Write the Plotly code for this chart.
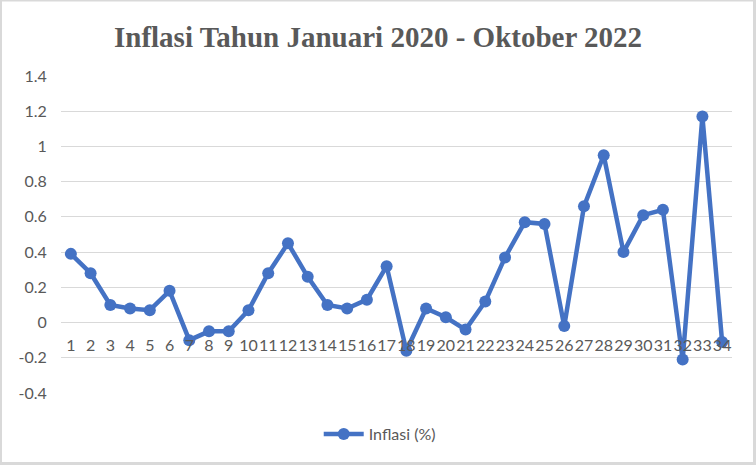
import plotly.graph_objects as go

months = [str(i) for i in range(1, 35)]
inflasi = [0.39, 0.28, 0.10, 0.08, 0.07, 0.18, -0.10, -0.05, -0.05, 0.07,
           0.28, 0.45, 0.26, 0.10, 0.08, 0.13, 0.32, -0.16, 0.08, 0.03,
           -0.04, 0.12, 0.37, 0.57, 0.56, -0.02, 0.66, 0.95, 0.40, 0.61,
           0.64, -0.21, 1.17, -0.11]
y_tickvals = [-0.4, -0.2, 0, 0.2, 0.4, 0.6, 0.8, 1, 1.2, 1.4]
y_ticktext = ["-0.4", "-0.2", "0", "0.2", "0.4", "0.6", "0.8", "1", "1.2", "1.4"]

W, H = 756, 465
L, R, T, B = 61, 24, 76, 72
pw, ph = W - L - R, H - T - B
ymin, ymax = -0.4, 1.4

def xp(px):
    return (px - L) / pw

def yp(py):
    return (H - B - py) / ph

txt = "#595959"
grid = "#d9d9d9"

fig = go.Figure()
fig.add_trace(go.Scatter(
    x=months, y=inflasi, mode="lines+markers", name="Inflasi (%)",
    line=dict(color="#4472C4", width=4.5),
    marker=dict(color="#4472C4", size=12),
))

fig.update_layout(
    width=W, height=H,
    margin=dict(l=L, r=R, t=T, b=B, autoexpand=False),
    paper_bgcolor=grid,
    plot_bgcolor="rgba(0,0,0,0)",
    font=dict(family="Lato, Calibri, sans-serif", size=16, color=txt),
    title=dict(text="<b>Inflasi Tahun Januari 2020 - Oktober 2022</b>",
               font=dict(family="Liberation Serif, Times New Roman, serif", size=29, color=txt),
               x=0.5, xanchor="center", xref="container",
               y=1 - 37 / H, yanchor="middle", yref="container"),
    xaxis=dict(type="category", anchor="free",
               position=(0 - ymin) / (ymax - ymin),
               range=[-0.5, len(months) - 0.5],
               tickmode="array", tickvals=months, ticktext=months,
               showgrid=False, showline=False, zeroline=False,
               tickangle=0, ticks="outside", ticklen=8, tickcolor="rgba(0,0,0,0)",
               tickfont=dict(size=16, color=txt)),
    yaxis=dict(range=[ymin, ymax], tickvals=y_tickvals, ticktext=y_ticktext,
               showgrid=True, gridcolor=grid, gridwidth=1,
               zeroline=True, zerolinecolor=grid, zerolinewidth=1,
               showline=False, ticks="outside", ticklen=10,
               tickcolor="rgba(0,0,0,0)", tickfont=dict(size=16, color=txt)),
    showlegend=True,
    legend=dict(orientation="h", x=0.475, xanchor="center",
                y=yp(434), yanchor="middle", itemwidth=40,
                font=dict(size=16, color=txt), bgcolor="rgba(0,0,0,0)"),
    shapes=[dict(type="rect", xref="paper", yref="paper", layer="below",
                 x0=xp(2), x1=xp(753), y0=yp(462), y1=yp(1.5),
                 fillcolor="white", line=dict(width=0))],
)

fig.write_html("out.html", config={"displayModeBar": False},
               post_script="document.body.style.margin='0';")
